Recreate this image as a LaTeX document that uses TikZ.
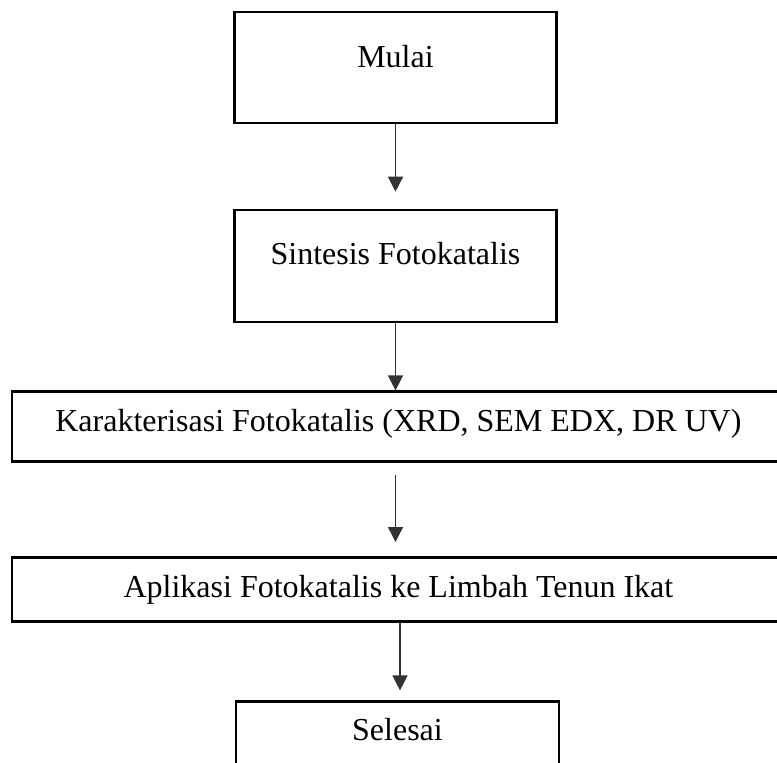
\documentclass[tikz,border=0pt]{standalone}
\usepackage{fontspec}
\setmainfont{Liberation Serif}
\usetikzlibrary{arrows.meta}

\begin{document}
\begin{tikzpicture}[x=0.5pt, y=-0.5pt, >={Triangle[length=7.5pt,width=7.5pt]}]
    \fontsize{16}{19}\selectfont

    \tikzstyle{stage} = [rectangle, draw=black, line width=1.3pt, inner sep=0pt, anchor=base, text centered]
    \tikzstyle{connector} = [->, line width=0.7pt, draw=black!80]

    \useasboundingbox (0,0) rectangle (777,762);

    % Boxes, placed at the baseline of their text %%%%%%%%%%%%%%%%%%%%%%%%%%%%%%%%%%%%
    \node[stage, minimum width=161pt, text height=27.5pt, text depth=28pt] (mulai) at (395.5,67) {Mulai};
    \node[stage, minimum width=161pt, text height=27pt, text depth=29pt] (sintesis) at (395.5,264) {Sintesis Fotokatalis};
    \node[stage, minimum width=386.5pt, text height=20pt, text depth=15pt] (karak) at (398.4,431.7) {Karakterisasi Fotokatalis (XRD, SEM EDX, DR UV)};
    \node[stage, minimum width=386.5pt, text height=20pt, text depth=12.2pt] (aplikasi) at (398.4,597.3) {Aplikasi Fotokatalis ke Limbah Tenun Ikat};
    \node[stage, minimum width=161.5pt, text height=19.5pt, text depth=20pt] (selesai) at (397.5,740.7) {Selesai};

    % Now link the nodes %%%%%%%%%%%%%%%%%%%%%%%%%%%%%%%%%%%%%%%%%%%%%%%%%%%%%%%%%%%%%%%%
    \draw [connector, shorten >=8.5pt] (mulai.south) -- (sintesis.north);
    \draw [connector] (sintesis.south) -- (karak.north -| sintesis.south);
    \draw [connector, shorten <=6pt, shorten >=7pt] (karak.south -| sintesis.south) -- (aplikasi.north -| sintesis.south);
    \draw [connector, shorten >=5pt] ([xshift=0.8pt]aplikasi.south) -- ([xshift=0.8pt]aplikasi.south |- selesai.north);

\end{tikzpicture}
\end{document}
